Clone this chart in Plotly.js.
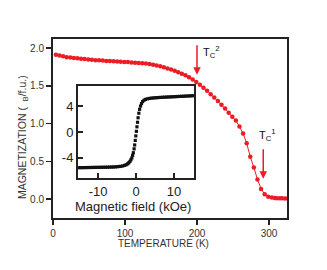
<!DOCTYPE html>
<html><head><meta charset="utf-8">
<script src="https://cdn.plot.ly/plotly-3.0.1.min.js"></script>
<style>html,body{margin:0;padding:0;background:#fff}#c{width:327px;height:270px}</style>
</head><body><div id="c"></div>
<script>
// Main curve: magnetization vs temperature
var temperatureK = [4,9,14,19,24,29,34,39,44,49,54,59,64,69,74,79,84,89,94,99,104,109,114,119,124,129,134,139,144,149,154,159,164,169,174,179,184,189,194,199,204,209,214,219,224,229,234,239,244,249,254,259,264,269,274,279,284,289,294,299,304,308,311,315,318,322,326];
var magnetization = [1.91,1.90,1.89,1.88,1.875,1.87,1.865,1.86,1.855,1.85,1.845,1.84,1.838,1.835,1.83,1.828,1.825,1.822,1.82,1.817,1.814,1.81,1.807,1.803,1.80,1.795,1.79,1.78,1.77,1.76,1.745,1.73,1.715,1.70,1.68,1.66,1.64,1.615,1.585,1.55,1.515,1.475,1.435,1.39,1.345,1.30,1.25,1.20,1.145,1.09,1.04,0.96,0.87,0.74,0.56,0.42,0.26,0.135,0.065,0.03,0.02,0.015,0.012,0.01,0.01,0.008,0.008];
// Inset: magnetization vs magnetic field
var fieldKOe = [-20.5,-20,-19.5,-19,-18.5,-18,-17.5,-17,-16.5,-16,-15.5,-15,-14.5,-14,-13.5,-13,-12.5,-12,-11.5,-11,-10.5,-10,-9.5,-9,-8.5,-8,-7.5,-7,-6.5,-6,-5.5,-5,-4.5,-4,
 -3.5,-3,-2.6,-2.2,-1.9,-1.6,-1.35,-1.1,-0.9,-0.7,-0.5,-0.35,-0.2,-0.05,0.1,0.25,0.4,0.55,0.75,0.95,1.2,1.45,1.75,2.1,2.5,3,3.5,4,4.5,
 5,5.5,6,6.5,7,7.5,8,8.5,9,9.5,10,10.5,11,11.5,12,12.5,13,13.5,14,14.5,15];
var momentInset = [-5.56,-5.56,-5.55,-5.55,-5.54,-5.54,-5.53,-5.53,-5.52,-5.52,-5.51,-5.51,-5.50,-5.50,-5.49,-5.49,-5.48,-5.48,-5.47,-5.47,-5.46,-5.46,-5.45,-5.45,-5.44,-5.44,-5.43,-5.42,-5.41,-5.40,-5.38,-5.36,-5.33,-5.30,
 -5.24,-5.16,-5.05,-4.92,-4.75,-4.55,-4.3,-4.0,-3.6,-3.2,-2.6,-2.0,-1.3,-0.6,0.1,0.8,1.5,2.2,2.9,3.5,4.0,4.4,4.7,4.9,5.03,5.12,5.18,5.22,5.25,
 5.28,5.30,5.32,5.34,5.36,5.37,5.39,5.40,5.42,5.43,5.45,5.46,5.48,5.49,5.51,5.52,5.54,5.55,5.57,5.58,5.60];
var mainXTicks = [0,100,200,300];
var mainYTicks = [0,0.5,1.0,1.5,2.0];
var mainYTickText = ['0.0','0.5','1.0','1.5','2.0'];
var insetXTicks = [-10,0,10];
var insetXTickText = ['-10','0','10'];
var insetYTicks = [-4,0,4];
var insetYTickText = ['-4','0','4'];
var tc2 = 200, tc1 = 292;

var F = 'Liberation Sans, Arial, sans-serif';
var red = '#ec1c24';
var ink = '#222';

var traces = [
 {x: temperatureK, y: magnetization, type:'scatter', mode:'lines+markers', xaxis:'x', yaxis:'y',
  line:{color:red, width:1}, marker:{color:red, size:4.5}, cliponaxis:true},
 {x: fieldKOe, y: momentInset, type:'scatter', mode:'markers', xaxis:'x2', yaxis:'y2',
  marker:{color:'#111', size:3.2, symbol:'square'}, cliponaxis:false}
];

var axMain = {showline:true, mirror:true, linewidth:2, linecolor:ink, ticks:'outside', ticklen:5, tickwidth:1.5, tickcolor:ink,
  showgrid:false, zeroline:false, tickfont:{family:F, size:10, color:'#333'}};
var axIn = {showline:true, mirror:true, linewidth:2, linecolor:ink, ticks:'inside', ticklen:5, tickwidth:1.5, tickcolor:ink,
  showgrid:false, zeroline:false, tickfont:{family:F, size:13, color:'#222'}};

var layout = {
 width:327, height:270, margin:{l:53, r:40, t:39, b:52},
 paper_bgcolor:'#fff', plot_bgcolor:'#fff', showlegend:false,
 xaxis: Object.assign({}, axMain, {range:[0,325], tickvals:mainXTicks, domain:[0,1], anchor:'y'}),
 yaxis: Object.assign({}, axMain, {range:[-0.25,2.12], tickvals:mainYTicks, ticktext:mainYTickText, domain:[0,1], anchor:'x'}),
 xaxis2: Object.assign({}, axIn, {range:[-15.3,15.3], tickvals:insetXTicks, ticktext:insetXTickText, domain:[0.1068,0.6026], anchor:'y2'}),
 yaxis2: Object.assign({}, axIn, {range:[-7.1,7.1], tickvals:insetYTicks, ticktext:insetYTickText, domain:[0.2235,0.7374], anchor:'x2'}),
 annotations: [
  {xref:'paper', yref:'paper', x:-0.128, y:0.4525, text:'MAGNETIZATION (  <sub>B</sub>/f.u.)', textangle:-90, showarrow:false,
   xanchor:'center', yanchor:'middle', font:{family:F, size:10.5, color:'#333'}},
  {xref:'paper', yref:'paper', x:0.472, y:-0.145, text:'TEMPERATURE (K)', showarrow:false,
   xanchor:'center', yanchor:'middle', font:{family:F, size:10, color:'#333'}},
  {xref:'paper', yref:'paper', x:0.3436, y:0.0615, text:'Magnetic field (kOe)', showarrow:false,
   xanchor:'center', yanchor:'middle', font:{family:F, size:13, color:'#222'}},
  {xref:'x', yref:'y', x:tc2, y:1.646, ax:tc2, ay:2.057, axref:'x', ayref:'y', text:'', showarrow:true,
   arrowhead:2, arrowsize:1, arrowwidth:1.5, arrowcolor:red, standoff:0},
  {xref:'x', yref:'y', x:tc1, y:0.27, ax:tc1, ay:0.68, axref:'x', ayref:'y', text:'', showarrow:true,
   arrowhead:2, arrowsize:1, arrowwidth:1.5, arrowcolor:red, standoff:0},
  {xref:'x', yref:'y', x:205, y:1.95, text:'T<sub>C</sub><sup>2</sup>', showarrow:false, xanchor:'left', yanchor:'middle',
   font:{family:F, size:11, color:'#111'}},
  {xref:'x', yref:'y', x:283, y:0.85, text:'T<sub>C</sub><sup>1</sup>', showarrow:false, xanchor:'left', yanchor:'middle',
   font:{family:F, size:11, color:'#111'}}
 ]
};
Plotly.newPlot('c', traces, layout, {staticPlot:true, displayModeBar:false});
</script></body></html>
